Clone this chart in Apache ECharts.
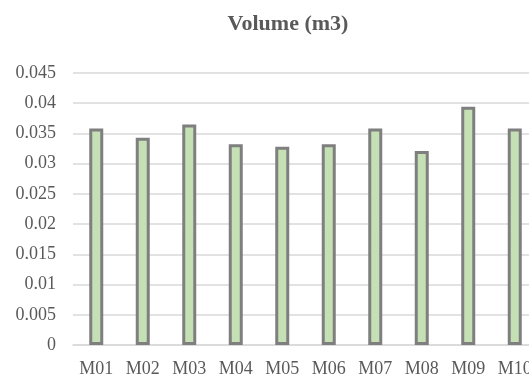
<!DOCTYPE html>
<html>
<head>
<meta charset="utf-8">
<script src="https://cdn.jsdelivr.net/npm/echarts@6/dist/echarts.min.js"></script>
<style>
  html, body { margin: 0; padding: 0; background: #ffffff; }
  #chart { width: 529px; height: 377px; }
</style>
</head>
<body>
<div id="chart"></div>
<script>
// Sample identifiers along the category axis
const categories = ['M01', 'M02', 'M03', 'M04', 'M05', 'M06', 'M07', 'M08', 'M09', 'M10'];
// Measured volume per sample, in cubic metres
const volumes = [0.0358, 0.0343, 0.0365, 0.0332, 0.0328, 0.0332, 0.0358, 0.0321, 0.0394, 0.0358];
// Value axis range and step
const yMin = 0;
const yMax = 0.045;
const yStep = 0.005;

const chart = echarts.init(document.getElementById('chart'), null, { renderer: 'canvas' });
const serif = '"Liberation Serif", "Times New Roman", serif';

chart.setOption({
  animation: false,
  backgroundColor: '#ffffff',
  title: {
    text: 'Volume (m3)',
    left: 283,
    textAlign: 'center',
    top: 8,
    textStyle: { fontFamily: serif, fontWeight: 'bold', fontSize: 22, color: '#595959' }
  },
  // the plot runs a little past the right edge of the canvas
  grid: {
    left: 73, width: 465, top: 73, height: 272,
    containLabel: false, outerBoundsMode: 'none'
  },
  xAxis: {
    type: 'category',
    data: categories,
    axisLine: { show: true, lineStyle: { color: '#d9d9d9', width: 1.5 } },
    axisTick: { show: false },
    axisLabel: { fontFamily: serif, fontSize: 18, color: '#595959', margin: 15, hideOverlap: false }
  },
  yAxis: {
    type: 'value',
    min: yMin,
    max: yMax,
    interval: yStep,
    axisLine: { show: false },
    axisTick: { show: false },
    splitLine: { lineStyle: { color: '#d9d9d9', width: 1.5 } },
    axisLabel: {
      fontFamily: serif, fontSize: 18, color: '#595959', margin: 17,
      formatter: v => String(+v.toFixed(3))
    }
  },
  series: [{
    type: 'bar',
    data: volumes,
    barWidth: 14,
    itemStyle: { color: '#c5e0b4', borderColor: '#7f7f7f', borderWidth: 3 }
  }]
});
</script>
</body>
</html>
